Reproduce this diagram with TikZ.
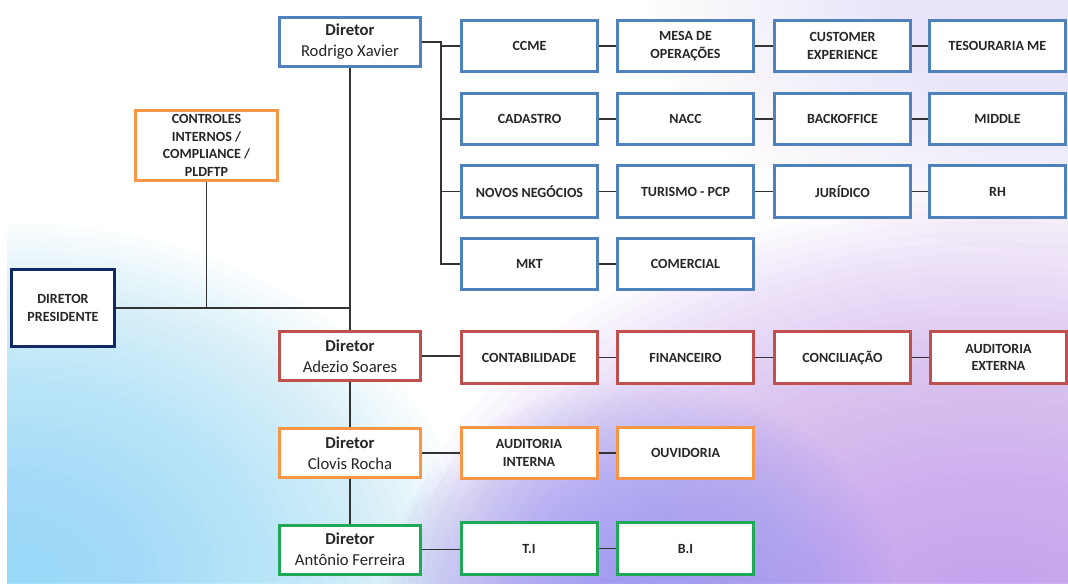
\documentclass[tikz,border=0pt]{standalone}
\usepackage{fontspec}
\setmainfont{Carlito}
\definecolor{bxblue}{HTML}{4F81BD}
\definecolor{bxred}{HTML}{C0504D}
\definecolor{bxorange}{HTML}{F79646}
\definecolor{bxgreen}{HTML}{1FA855}
\definecolor{bxnavy}{HTML}{0F2A66}
\definecolor{lncol}{HTML}{333333}
\definecolor{txt}{HTML}{262626}
\definecolor{bgblue}{HTML}{8ED9F8}
\definecolor{bgpurple}{HTML}{C497EE}
\definecolor{bgviolet}{HTML}{9C9CF2}
\definecolor{bglav}{HTML}{EAE4FA}
% soft blob: colour, cx, cy, rx, ry  (40 stacked translucent ellipses)
\newcommand\bgblob[5]{%
  \foreach \k in {1,...,40}{%
    \fill[#1, opacity=0.045] (#2,#3) ellipse [x radius={#4/40*\k}, y radius={#5/40*\k}];
  }}
\begin{document}
\begin{tikzpicture}[x=0.75pt,y=-0.75pt,
  box/.style={draw, line width=2.25pt, fill=white, align=center, text=txt,
    font=\bfseries\fontsize{10.5}{13.3}\selectfont,
    minimum width=102pt, minimum height=38.5pt, inner sep=1pt},
  dirbox/.style={draw, line width=2.25pt, fill=white, align=center, text=txt,
    font=\fontsize{12.5}{15.8}\selectfont,
    minimum width=105.75pt, minimum height=36.75pt, inner sep=1pt},
  conn/.style={draw=lncol, line width=1.1pt}]
\useasboundingbox (0,0) rectangle (1068,583);
% background
\fill[white] (0,0) rectangle (1068,583);
\begin{scope}
\clip (7,0) rectangle (1068,583);
\bgblob{bglav}{1068}{0}{420}{260}
\bgblob{bgblue}{7}{583}{470}{360}
\bgblob{bgpurple}{990}{620}{600}{420}
\bgblob{bgviolet}{640}{610}{260}{230}
\end{scope}
% directors
\node[dirbox, draw=bxblue] (rod) at (350,42) {\textbf{Diretor}\\Rodrigo Xavier};
\node[dirbox, draw=bxred] (ade) at (350,356) {\textbf{Diretor}\\Adezio Soares};
\node[dirbox, draw=bxorange] (clo) at (350,453) {\textbf{Diretor}\\Clovis Rocha};
\node[dirbox, draw=bxgreen] (ant) at (350,549.5) {\textbf{Diretor}\\Antônio Ferreira};
\node[box, draw=bxorange, minimum width=106.5pt, minimum height=52.5pt] (ctl) at (206.5,145.5) {CONTROLES\\INTERNOS /\\COMPLIANCE /\\PLDFTP};
\node[box, draw=bxnavy, line width=2.6pt, minimum width=77pt, minimum height=57.5pt] (pres) at (63,308) {DIRETOR\\PRESIDENTE};
% blue grid
\node[box, draw=bxblue] (ccme) at (529.5,46) {CCME};
\node[box, draw=bxblue] (mesa) at (685.5,46) {MESA DE\\OPERAÇÕES};
\node[box, draw=bxblue] (cust) at (842.5,46) {CUSTOMER\\EXPERIENCE};
\node[box, draw=bxblue] (teso) at (997.5,46) {TESOURARIA ME};
\node[box, draw=bxblue] (cad) at (529.5,119) {CADASTRO};
\node[box, draw=bxblue] (nacc) at (685.5,119) {NACC};
\node[box, draw=bxblue] (back) at (842.5,119) {BACKOFFICE};
\node[box, draw=bxblue] (mid) at (997.5,119) {MIDDLE};
\node[box, draw=bxblue] (novos) at (529.5,191.5) {NOVOS NEGÓCIOS};
\node[box, draw=bxblue] (tur) at (685.5,191.5) {TURISMO - PCP};
\node[box, draw=bxblue] (jur) at (842.5,191.5) {JURÍDICO};
\node[box, draw=bxblue] (rh) at (997.5,191.5) {RH};
\node[box, draw=bxblue] (mkt) at (529.5,264) {MKT};
\node[box, draw=bxblue] (com) at (685.5,264) {COMERCIAL};
% red row
\node[box, draw=bxred] (cont) at (529,357.5) {CONTABILIDADE};
\node[box, draw=bxred] (fin) at (685.5,357.5) {FINANCEIRO};
\node[box, draw=bxred] (conc) at (842.5,357.5) {CONCILIAÇÃO};
\node[box, draw=bxred] (audext) at (998.5,357.5) {AUDITORIA\\EXTERNA};
% orange row
\node[box, draw=bxorange] (audint) at (529,453) {AUDITORIA\\INTERNA};
\node[box, draw=bxorange] (ouv) at (685.5,453) {OUVIDORIA};
% green row
\node[box, draw=bxgreen] (ti) at (529,548.5) {T.I};
\node[box, draw=bxgreen] (bi) at (685.5,548.5) {B.I};
% connectors
\coordinate (trunk) at (441,42);
\draw[conn] (pres.east) -- (pres.east -| rod.south);
\draw[conn] (ctl.south) -- (ctl.south |- pres.east);
\draw[conn] (rod.south) -- (ade.north);
\draw[conn] (ade.south) -- (clo.north);
\draw[conn] (clo.south) -- (ant.north);
\draw[conn] (rod.east) -- (trunk) -- (trunk |- mkt.west) -- (mkt.west);
\draw[conn] (trunk |- ccme.west) -- (ccme.west);
\draw[conn] (trunk |- cad.west) -- (cad.west);
\draw[conn] (trunk |- novos.west) -- (novos.west);
\draw[conn] (ccme) -- (mesa); \draw[conn] (mesa) -- (cust); \draw[conn] (cust) -- (teso);
\draw[conn] (cad) -- (nacc); \draw[conn] (nacc) -- (back); \draw[conn] (back) -- (mid);
\draw[conn] (novos) -- (tur); \draw[conn] (tur) -- (jur); \draw[conn] (jur) -- (rh);
\draw[conn] (mkt) -- (com);
\draw[conn] (ade.east) -- (ade.east -| cont.west);
\draw[conn] (cont) -- (fin); \draw[conn] (fin) -- (conc); \draw[conn] (conc) -- (audext);
\draw[conn] (clo.east) -- (clo.east -| audint.west);
\draw[conn] (audint) -- (ouv);
\draw[conn] (ant.east) -- (ant.east -| ti.west);
\draw[conn] (ti) -- (bi);
\end{tikzpicture}
\end{document}
